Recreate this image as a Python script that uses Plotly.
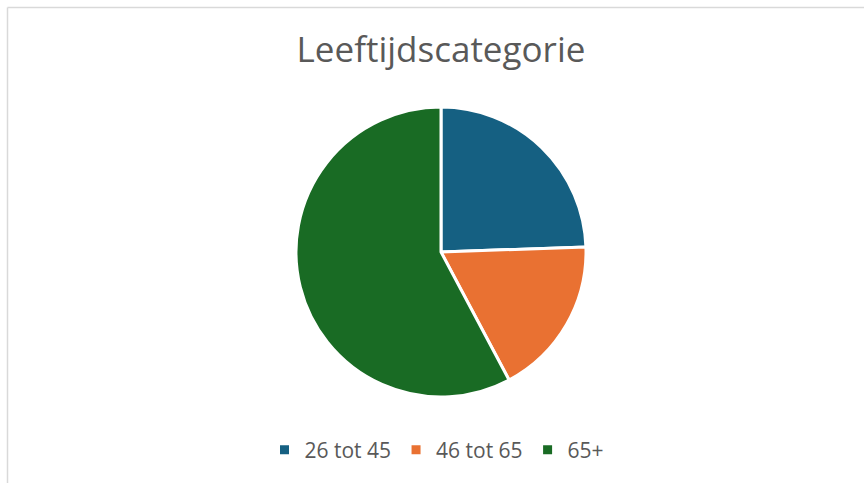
import plotly.graph_objects as go

categories = ["26 tot 45", "46 tot 65", "65+"]
values = [11, 8, 26]
colors = ["#156082", "#E97132", "#196B24"]
title_text = "Leeftijdscategorie"

W, H = 864, 483
cx, cy, r = 441, 252, 145

fig = go.Figure(go.Pie(
    labels=categories,
    values=values,
    marker=dict(colors=colors, line=dict(color="white", width=3)),
    sort=False,
    direction="clockwise",
    rotation=0,
    textinfo="none",
    hoverinfo="label+value+percent",
    domain=dict(x=[(cx - r) / W, (cx + r) / W], y=[(H - cy - r) / H, (H - cy + r) / H]),
))

fig.update_layout(
    width=W, height=H,
    margin=dict(l=0, r=0, t=0, b=0),
    paper_bgcolor="white",
    plot_bgcolor="white",
    font=dict(family="Open Sans, Inter, sans-serif", color="#595959"),
    title=dict(text=title_text, x=cx / W, xanchor="center", y=1 - 50 / H, yanchor="middle",
               font=dict(size=35, color="#595959")),
    legend=dict(orientation="h", x=(cx - 4) / W, xanchor="center", y=1 - 450 / H, yanchor="middle",
                font=dict(size=21, color="#595959"), itemwidth=30, traceorder="normal"),
    shapes=[
        dict(type="line", xref="paper", yref="paper", x0=7.5 / W, x1=7.5 / W, y0=0, y1=1 - 7.5 / H,
             line=dict(color="#D9D9D9", width=1.5)),
        dict(type="line", xref="paper", yref="paper", x0=7.5 / W, x1=1, y0=1 - 7.5 / H, y1=1 - 7.5 / H,
             line=dict(color="#D9D9D9", width=1.5)),
    ],
)

fig.write_html("out.html", config={"displayModeBar": False},
               post_script="document.body.style.margin='0';document.body.style.padding='0';")
